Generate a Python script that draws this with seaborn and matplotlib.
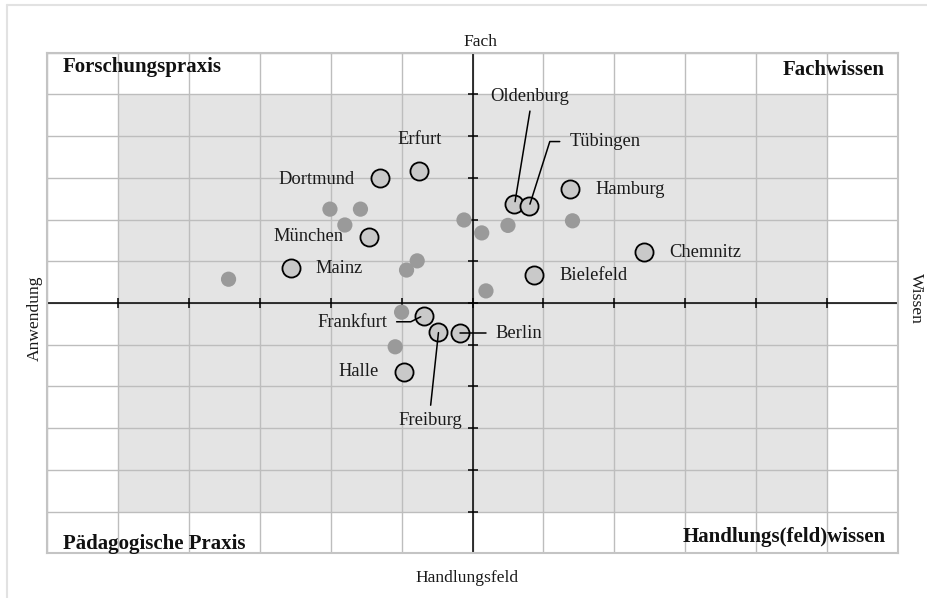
import matplotlib
matplotlib.use("Agg")
import matplotlib.pyplot as plt
from matplotlib.lines import Line2D
from matplotlib.patches import Rectangle
import seaborn as sns
import pandas as pd

# ---- data ----
cities = ["Dortmund", "Erfurt", "München", "Mainz", "Oldenburg", "Tübingen", "Hamburg",
          "Chemnitz", "Bielefeld", "Frankfurt", "Freiburg", "Berlin", "Halle"]
city_x = [-1.31, -0.75, -1.46, -2.56, 0.59, 0.80, 1.37, 2.42, 0.87, -0.69, -0.48, -0.17, -0.97]
city_y = [2.99, 3.16, 1.59, 0.85, 2.37, 2.33, 2.73, 1.23, 0.67, -0.30, -0.69, -0.73, -1.65]

other_x = [-2.01, -1.58, -1.80, -0.12, -3.44, -0.78, -0.93, 0.13, 0.50, 1.41, 0.19, -1.00, -1.09]
other_y = [2.25, 2.25, 1.87, 1.99, 0.57, 1.01, 0.79, 1.68, 1.86, 1.97, 0.29, -0.22, -1.05]

quadrant_titles = ["Forschungspraxis", "Fachwissen", "Pädagogische Praxis", "Handlungs(feld)wissen"]
axis_titles = ["Fach", "Handlungsfeld", "Anwendung", "Wissen"]
ticks = list(range(-6, 7))

df_c = pd.DataFrame({"x": city_x, "y": city_y, "name": cities})
df_o = pd.DataFrame({"x": other_x, "y": other_y})

# ---- style ----
sns.set_theme(style="white")
plt.rcParams["font.family"] = ["Liberation Serif", "DejaVu Serif"]

fig = plt.figure(figsize=(9.27, 5.98), dpi=100)
ax = fig.add_axes([47 / 927, 1 - 553.3 / 598, 851 / 927, 500.6 / 598])
ax.set_xlim(-6, 6)
ax.set_ylim(-6, 6)

# shaded inner region
ax.add_patch(Rectangle((-5, -5), 10, 10, facecolor="#e4e4e4", edgecolor="none", zorder=0))

# grid
ax.set_xticks(ticks)
ax.set_yticks(ticks)
ax.grid(True, color="#bdbdbd", linewidth=1.0, zorder=1)
ax.set_axisbelow(True)
ax.tick_params(left=False, bottom=False, labelleft=False, labelbottom=False)
for s in ax.spines.values():
    s.set_color("#c4c4c4")
    s.set_linewidth(1.5)

# central axes
ax.axhline(0, color="black", linewidth=1.1, zorder=2)
ax.axvline(0, color="black", linewidth=1.1, zorder=2)
ax.plot(ticks, [0] * len(ticks), linestyle="none", marker="|", markersize=7,
        markeredgewidth=1.1, color="black", zorder=2, clip_on=False)
ax.plot([0] * len(ticks), ticks, linestyle="none", marker="_", markersize=7,
        markeredgewidth=1.1, color="black", zorder=2, clip_on=False)

# points
sns.scatterplot(data=df_o, x="x", y="y", ax=ax, s=120, color="#9a9a9a",
                edgecolor="none", linewidth=0, zorder=3, legend=False)
sns.scatterplot(data=df_c, x="x", y="y", ax=ax, s=170, color="#c9c9c9",
                edgecolor="black", linewidth=1.3, zorder=4, legend=False)
ax.set_xlabel("")
ax.set_ylabel("")

# labels
fs = 13.3
lab = dict(fontsize=fs, color="#1a1a1a", va="center", zorder=5)
ax.text(-1.67, 2.97, "Dortmund", ha="right", **lab)
ax.text(-0.75, 3.91, "Erfurt", ha="center", **lab)
ax.text(-1.82, 1.59, "München", ha="right", **lab)
ax.text(-2.21, 0.83, "Mainz", ha="left", **lab)
ax.text(0.81, 4.96, "Oldenburg", ha="center", **lab)
ax.text(1.375, 3.87, "Tübingen", ha="left", **lab)
ax.text(1.73, 2.71, "Hamburg", ha="left", **lab)
ax.text(2.78, 1.22, "Chemnitz", ha="left", **lab)
ax.text(1.23, 0.66, "Bielefeld", ha="left", **lab)
ax.text(-1.20, -0.46, "Frankfurt", ha="right", **lab)
ax.text(-0.59, -2.81, "Freiburg", ha="center", **lab)
ax.text(0.33, -0.73, "Berlin", ha="left", **lab)
ax.text(-1.33, -1.65, "Halle", ha="right", **lab)

# leader lines
ll = dict(color="black", linewidth=1.1, zorder=5)
ax.plot([0.81, 0.60], [4.60, 2.43], **ll)
ax.plot([1.23, 1.09, 0.81], [3.87, 3.87, 2.37], **ll)
ax.plot([-1.07, -0.87, -0.73], [-0.45, -0.45, -0.33], **ll)
ax.plot([-0.59, -0.48], [-2.45, -0.71], **ll)
ax.plot([-0.17, 0.19], [-0.73, -0.73], **ll)

# quadrant titles
qt = dict(fontsize=15, fontweight="bold", color="#111111", va="center", zorder=5)
ax.text(62.7, 598 - 66.7, quadrant_titles[0], ha="left", transform=None, **qt)
ax.text(885, 598 - 70, quadrant_titles[1], ha="right", transform=None, **qt)
ax.text(62.7, 598 - 544, quadrant_titles[2], ha="left", transform=None, **qt)
ax.text(886, 598 - 536.7, quadrant_titles[3], ha="right", transform=None, **qt)

# axis titles
at = dict(fontsize=12.6, color="#1a1a1a")
fig.text(480 / 927, 1 - 41.7 / 598, axis_titles[0], ha="center", va="center", **at)
fig.text(467 / 927, 1 - 578 / 598, axis_titles[1], ha="center", va="center", **at)
fig.text(35 / 927, 1 - 318 / 598, axis_titles[2], ha="center", va="center", rotation=90, **at)
fig.text(916 / 927, 1 - 298 / 598, axis_titles[3], ha="center", va="center", rotation=270, **at)

# outer frame lines
fig.add_artist(Line2D([7 / 927, 1], [1 - 5 / 598, 1 - 5 / 598], transform=fig.transFigure,
                      color="#e2e2e2", linewidth=1.5))
fig.add_artist(Line2D([7 / 927, 7 / 927], [0, 1 - 5 / 598], transform=fig.transFigure,
                      color="#e2e2e2", linewidth=1.5))

fig.savefig("out.png", dpi=100)
